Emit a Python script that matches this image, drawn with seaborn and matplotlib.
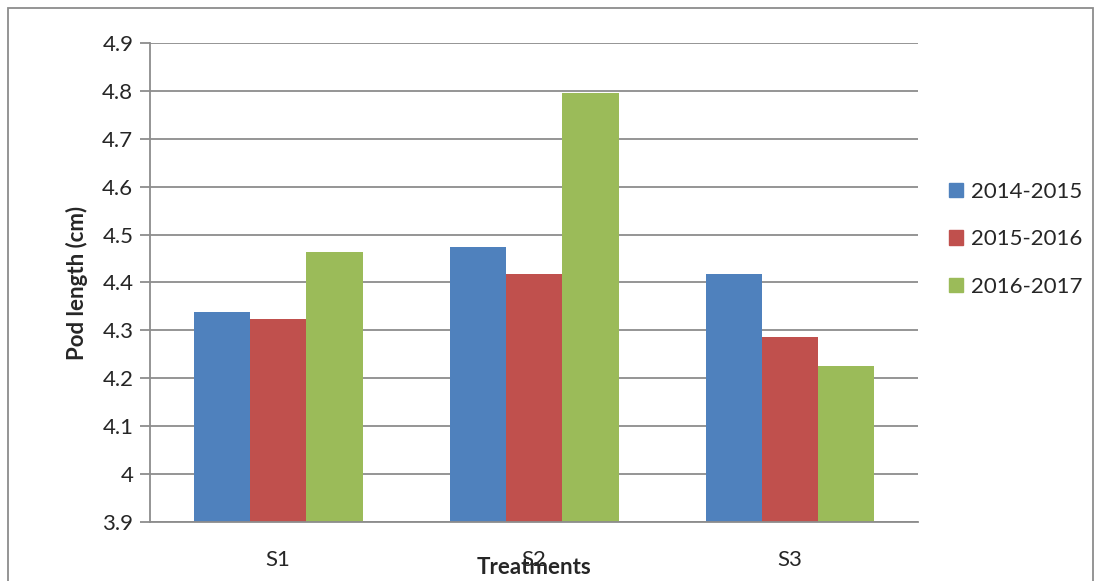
import pandas as pd
import matplotlib
matplotlib.use("Agg")
import matplotlib.pyplot as plt
import matplotlib.patches as mpatches
import seaborn as sns

# --- data ---
treatments = ["S1", "S2", "S3"]
seasons = ["2014-2015", "2015-2016", "2016-2017"]
vals_2014 = [4.338, 4.475, 4.418]
vals_2015 = [4.323, 4.418, 4.286]
vals_2016 = [4.463, 4.795, 4.225]
colors = ["#4F81BD", "#C0504D", "#9BBB59"]

df = pd.DataFrame({
    "Treatment": treatments * 3,
    "Season": [s for s in seasons for _ in treatments],
    "Value": vals_2014 + vals_2015 + vals_2016,
})

sns.set_style("white")
plt.rcParams["font.family"] = ["Lato", "DejaVu Sans"]

fig = plt.figure(figsize=(10.96, 5.81), dpi=100)
ax = fig.add_axes([0.1369, 0.1016, 0.7007, 0.8244])

sns.barplot(data=df, x="Treatment", y="Value", hue="Season", palette=colors,
            width=0.66, gap=0, saturation=1, ax=ax, legend=False)
# bars start at the 3.9 baseline of the axis
for p in ax.patches:
    h = p.get_height()
    p.set_y(3.9)
    p.set_height(h - 3.9)
    p.set_linewidth(0)

ax.set_ylim(3.9, 4.9)
ax.set_xlim(-0.5, 2.5)
ax.set_yticks([3.9, 4.0, 4.1, 4.2, 4.3, 4.4, 4.5, 4.6, 4.7, 4.8, 4.9])
ax.set_yticklabels(["3.9", "4", "4.1", "4.2", "4.3", "4.4", "4.5", "4.6", "4.7", "4.8", "4.9"])
ax.yaxis.grid(True, color="#8c8c8c", linewidth=1.3)
ax.set_axisbelow(True)

for side in ["top", "right"]:
    ax.spines[side].set_visible(False)
for side in ["left", "bottom"]:
    ax.spines[side].set_color("#8c8c8c")
    ax.spines[side].set_linewidth(1.3)

ax.set_xticks([0, 1, 2])
ax.set_xticklabels(treatments)
ax.set_xticks([-0.5, 0.5, 1.5, 2.5], minor=True)
ax.tick_params(axis="x", which="major", length=0, pad=20, labelsize=16)
ax.tick_params(axis="x", which="minor", length=7, color="#8c8c8c", width=1.3)
ax.tick_params(axis="y", length=7, color="#8c8c8c", width=1.3, labelsize=16, pad=5, left=True)

ax.set_xlabel("Treatments", fontsize=16, fontweight="bold", labelpad=-9)
ax.set_ylabel("Pod length (cm)", fontsize=16, fontweight="bold", labelpad=10)

handles = [mpatches.Patch(color=c, label=s) for c, s in zip(colors, seasons)]
fig.legend(handles=handles, loc="upper left", bbox_to_anchor=(0.848, 0.722),
           frameon=False, fontsize=16, handlelength=0.6, handleheight=0.6,
           handletextpad=0.35, labelspacing=1.25)

# outer chart frame
fig.patches.append(mpatches.Rectangle((0.007, -0.01), 0.99, 0.996, transform=fig.transFigure,
                                      fill=False, edgecolor="#8c8c8c", linewidth=1.3))

fig.savefig("out.png", dpi=100)
